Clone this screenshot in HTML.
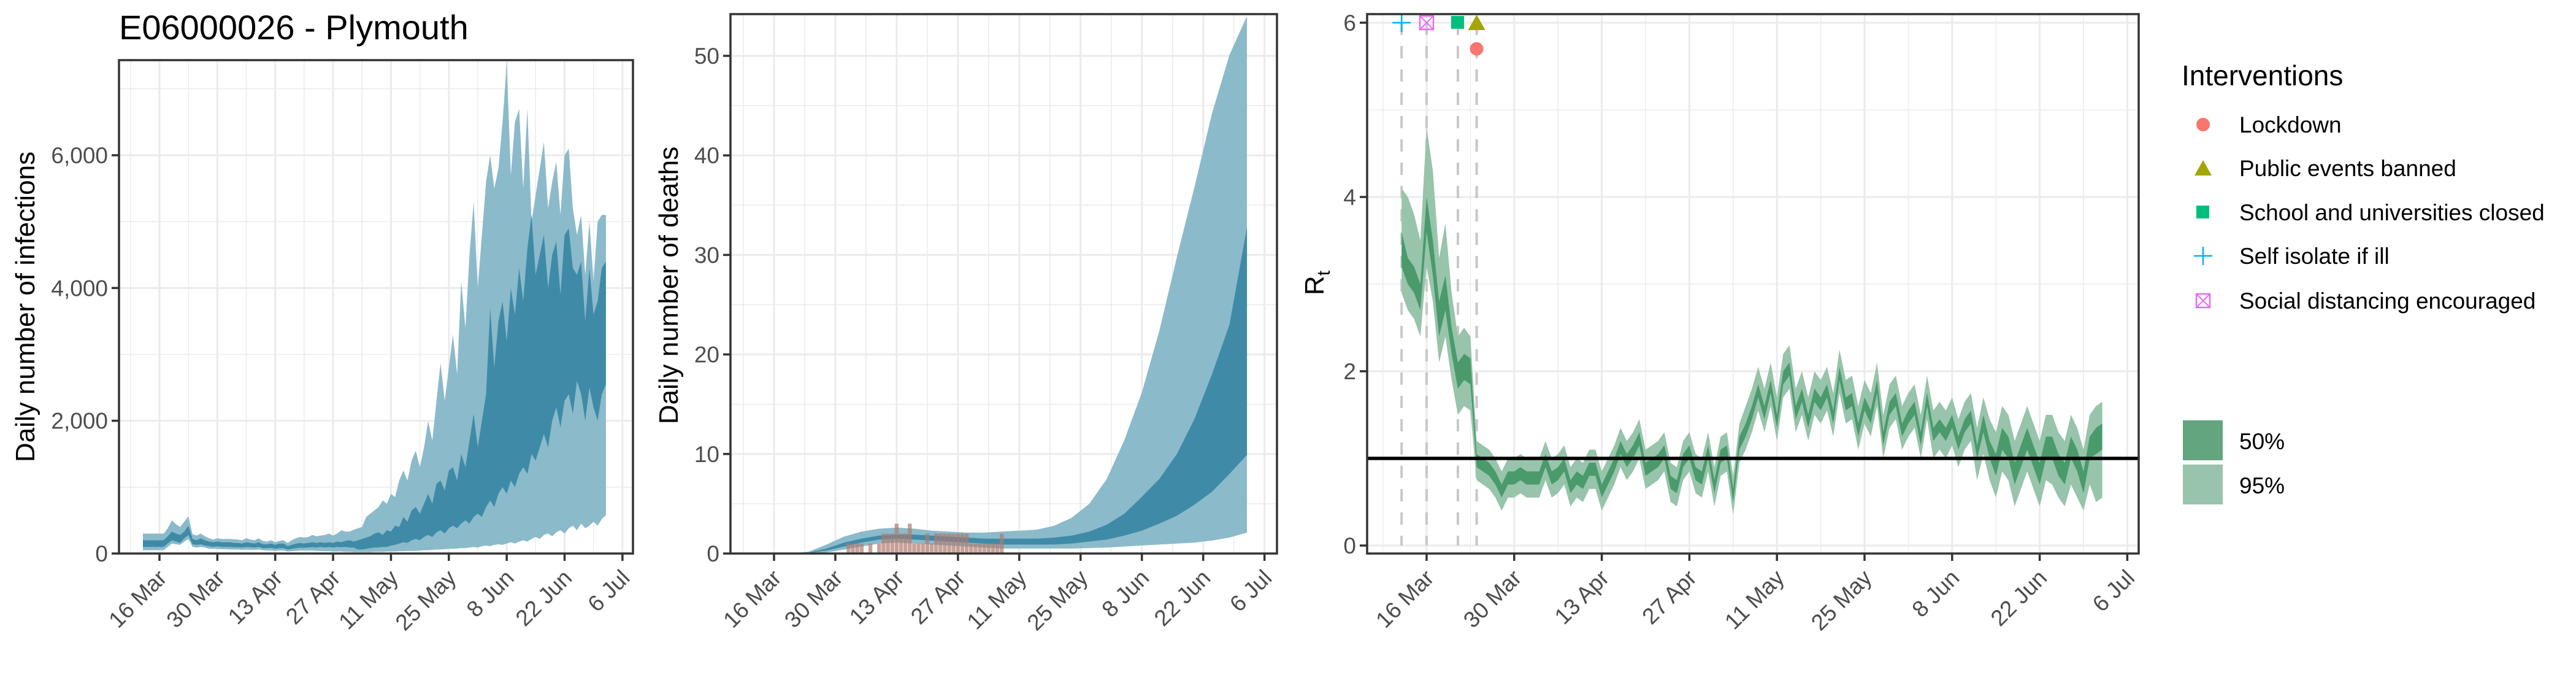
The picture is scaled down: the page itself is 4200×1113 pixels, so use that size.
<!DOCTYPE html>
<html><head><meta charset="utf-8"><style>
html,body{margin:0;padding:0;background:#fff}
svg{display:block}
text{font-family:"Liberation Sans",Arial,sans-serif}
</style></head><body>
<svg id="chart" width="4200" height="1113" viewBox="0 0 4200 1113" xmlns="http://www.w3.org/2000/svg">
<text x="194" y="64" font-size="56" fill="#000">E06000026 - Plymouth</text>
<g id="p1"></g>
<g id="p2"></g>
<g id="p3"></g>
<g id="legend">
  <text x="3557" y="139" font-size="46" fill="#000">Interventions</text>
  <g><circle cx="3592" cy="203" r="11" fill="#f8766d"/><text x="3651" y="216" font-size="37">Lockdown</text></g>
  <g><polygon points="3578,286 3606,286 3592,261" fill="#a3a500"/><text x="3651" y="287" font-size="37">Public events banned</text></g>
  <g><rect x="3581" y="335" width="21" height="21" fill="#00bf7d"/><text x="3651" y="359" font-size="37">School and universities closed</text></g>
  <g><line x1="3577" y1="417" x2="3607" y2="417" stroke="#00b0f6" stroke-width="2.5"/><line x1="3592" y1="402" x2="3592" y2="432" stroke="#00b0f6" stroke-width="2.5"/><text x="3651" y="430" font-size="37">Self isolate if ill</text></g>
  <g><rect x="3581" y="479" width="22" height="22" fill="none" stroke="#e76bf3" stroke-width="2.5"/><line x1="3581" y1="479" x2="3603" y2="501" stroke="#e76bf3" stroke-width="2"/><line x1="3603" y1="479" x2="3581" y2="501" stroke="#e76bf3" stroke-width="2"/><text x="3651" y="503" font-size="37">Social distancing encouraged</text></g>
  <g><rect x="3559" y="685" width="65" height="65" fill="#62a57e"/><text x="3651" y="732" font-size="37">50%</text></g>
  <g><rect x="3559" y="757" width="65" height="65" fill="#98c4ab"/><text x="3651" y="804" font-size="37">95%</text></g>
</g>
</svg>
<script>
// ---------- DATA ----------
const tickLabels = ["16 Mar","30 Mar","13 Apr","27 Apr","11 May","25 May","8 Jun","22 Jun","6 Jul"];
const tickDays = [0,14,28,42,56,70,84,98,112];
const infStartDay = -4;
const infL95 = [50,50,50,50,50,50,100,150,140,130,180,220,100,90,100,90,
70,70,70,65,65,60,60,60,55,60,55,55,60,50,45,45,40,45,45,30,35,40,45,45,45,45,40,40,35,35,30,30,30,25,25,20,
20,20,20,20,25,25,25,30,30,30,35,35,40,40,40,45,50,50,55,60,60,65,70,70,75,80,80,90,100,90,110,120,110,130,140,130,150,170,150,180,200,180,220,250,220,280,300,260,320,350,300,380,420,350,450,380,420,480,420,520,580];
const infL50 = [100,100,100,100,100,100,150,200,180,160,230,280,140,130,140,120,
110,100,110,100,100,100,95,95,90,100,95,90,100,80,80,85,70,80,80,60,70,80,90,85,90,95,90,100,90,100,90,100,95,100,90,90,
60,60,70,80,90,90,100,100,120,130,150,170,160,200,220,200,250,280,250,320,350,300,380,420,380,450,500,450,550,600,550,700,800,700,900,1000,900,1100,1000,1200,1300,1200,1500,1400,1600,1800,1600,2000,2200,1900,2300,2400,2100,2600,2400,2000,2500,2200,2000,2400,2550];
const infU50 = [200,200,200,200,200,200,260,330,300,280,330,420,220,200,230,200,
180,170,180,170,170,170,160,160,150,170,160,150,170,140,140,150,130,150,150,110,130,150,160,150,160,170,160,170,160,170,160,180,170,190,200,180,
200,220,240,260,300,320,280,350,330,420,400,550,480,650,700,600,750,900,750,1050,1100,950,1250,1300,1100,1500,1300,1700,2100,1600,2000,2400,3700,2800,3500,3800,3200,4000,3600,4300,3800,4600,5100,4200,4500,4800,4000,4500,4700,3900,4800,4900,4300,4200,4400,3500,4300,3600,3800,4300,4400];
const infU95 = [300,300,300,300,300,300,380,500,440,400,480,560,290,270,300,260,
230,210,230,220,220,220,215,210,200,230,210,200,230,190,180,200,170,190,200,160,200,230,250,240,250,280,260,270,280,300,270,300,350,330,330,360,
380,400,550,600,650,700,800,750,900,850,1100,1250,1100,1400,1550,1300,1600,2000,1700,2300,2870,2300,2800,3300,2700,4100,3400,4500,5300,4000,4800,5600,6000,5500,5800,6500,7400,5700,6500,6700,5500,6700,5000,5400,5800,6200,5200,5600,5900,5100,6000,6100,5200,4800,5100,4200,5000,4100,5000,5100,5100];

const deathDays = [4,8,12,16,20,24,28,32,36,40,44,48,52,56,60,64,68,72,76,80,84,88,92,96,100,104,108];
const deathL95 = [0,0,0.1,0.4,0.7,1.0,1.1,1.0,0.9,0.8,0.7,0.6,0.5,0.5,0.5,0.5,0.5,0.55,0.6,0.7,0.8,0.9,1.0,1.1,1.3,1.6,2.1];
const deathL50 = [0,0.05,0.3,0.7,1.1,1.4,1.5,1.4,1.3,1.2,1.1,1.0,0.9,0.9,0.9,0.9,1.0,1.2,1.4,1.8,2.3,3.0,3.8,4.9,6.2,8.0,9.9];
const deathU50 = [0,0.1,0.5,1.1,1.5,1.8,1.9,1.9,1.8,1.7,1.6,1.5,1.5,1.5,1.5,1.6,1.8,2.2,2.9,4.0,5.7,7.5,10,13.5,18,23,32.8];
const deathU95 = [0,0.2,0.9,1.7,2.2,2.5,2.6,2.5,2.3,2.2,2.1,2.1,2.2,2.3,2.4,2.8,3.6,5.0,7.5,11.4,16.2,22.4,29.8,36.8,44.2,50.1,54];
const obsStartDay = 17;
const obsDeaths = [1,1,1,1,0,1,0,1,2,2,2,3,2,2,3,1,1,1,2,1,2,2,2,2,2,2,2,2,1,1,1,1,1,1,1,2];

const rtStartDay = -4;
const rtU95 = [4.1,4.0,3.8,3.5,4.8,4.3,3.3,3.7,2.9,2.4,2.5,2.4,
1.2,1.15,1.1,1.0,0.85,1.0,1.0,1.05,1.0,1.0,1.0,1.2,1.0,1.05,1.15,0.9,1.0,0.95,1.1,1.1,0.85,1.0,1.15,1.35,1.2,1.3,1.45,1.1,1.15,1.2,1.3,0.95,0.9,1.2,1.3,1.05,1.0,1.3,0.9,1.25,1.3,0.8,1.4,
1.6,1.8,2.05,1.8,2.1,1.7,2.2,2.3,1.8,2.0,1.7,2.0,1.9,2.05,1.75,2.25,1.9,1.95,1.6,1.9,1.75,2.1,1.5,1.85,1.95,1.6,1.75,1.85,1.5,1.95,1.55,1.65,1.55,1.7,1.45,1.65,1.75,1.35,1.7,1.45,1.3,1.6,1.5,1.2,1.4,1.6,1.4,1.2,1.5,1.5,1.3,1.2,1.5,1.35,1.1,1.5,1.6,1.65];
const rtU50 = [3.6,3.3,3.2,3.0,4.0,3.5,2.8,3.1,2.5,2.1,2.2,2.15,
1.05,1.0,0.95,0.85,0.7,0.85,0.85,0.9,0.85,0.85,0.85,1.05,0.85,0.9,1.0,0.75,0.85,0.8,0.95,0.95,0.7,0.85,1.0,1.2,1.05,1.15,1.3,0.95,1.0,1.05,1.15,0.8,0.75,1.05,1.15,0.9,0.85,1.15,0.75,1.1,1.15,0.65,1.25,
1.4,1.6,1.85,1.6,1.9,1.5,2.0,2.1,1.6,1.8,1.5,1.8,1.7,1.85,1.55,2.05,1.7,1.75,1.4,1.7,1.55,1.9,1.3,1.65,1.75,1.4,1.55,1.65,1.3,1.75,1.35,1.45,1.35,1.5,1.25,1.45,1.55,1.15,1.5,1.2,1.05,1.35,1.25,0.95,1.15,1.35,1.15,0.95,1.25,1.25,1.05,0.95,1.25,1.1,0.85,1.25,1.35,1.4];
const rtL50 = [3.2,3.0,2.9,2.7,3.6,3.1,2.4,2.7,2.2,1.8,1.9,1.85,
0.9,0.85,0.8,0.7,0.55,0.7,0.7,0.75,0.7,0.7,0.7,0.9,0.7,0.75,0.85,0.6,0.7,0.65,0.8,0.8,0.55,0.7,0.85,1.05,0.9,1.0,1.15,0.8,0.85,0.9,1.0,0.65,0.6,0.9,1.0,0.75,0.7,1.0,0.6,0.95,1.0,0.5,1.1,
1.25,1.45,1.7,1.45,1.75,1.35,1.85,1.95,1.45,1.65,1.35,1.65,1.55,1.7,1.4,1.9,1.55,1.6,1.25,1.55,1.4,1.75,1.15,1.5,1.6,1.25,1.4,1.5,1.15,1.6,1.2,1.3,1.2,1.35,1.1,1.3,1.4,1.0,1.3,1.0,0.8,1.1,1.0,0.7,0.9,1.1,0.9,0.7,1.0,1.0,0.8,0.7,1.0,0.85,0.6,1.0,1.05,1.1];
const rtL95 = [2.9,2.7,2.6,2.4,3.2,2.8,2.1,2.4,1.9,1.5,1.6,1.55,
0.75,0.7,0.65,0.55,0.4,0.55,0.55,0.6,0.55,0.55,0.55,0.75,0.55,0.6,0.7,0.45,0.55,0.5,0.65,0.65,0.4,0.55,0.7,0.9,0.75,0.85,1.0,0.65,0.7,0.75,0.85,0.5,0.45,0.75,0.85,0.6,0.55,0.85,0.45,0.8,0.85,0.35,0.95,
1.1,1.3,1.55,1.3,1.6,1.2,1.7,1.8,1.3,1.5,1.2,1.5,1.4,1.55,1.25,1.75,1.4,1.45,1.1,1.4,1.25,1.6,1.0,1.35,1.45,1.1,1.25,1.35,1.0,1.45,1.0,1.1,1.0,1.15,0.9,1.1,1.2,0.75,1.05,0.75,0.55,0.85,0.75,0.45,0.65,0.85,0.65,0.45,0.75,0.7,0.55,0.45,0.7,0.55,0.4,0.7,0.5,0.55];

const interventionNames = ["Self isolate if ill","Social distancing encouraged","School and universities closed","Public events banned","Lockdown"];
const interventionDays = [-4,0,5,8,8];
const interventionLevel = [6,6,6,6,5.7];

// ---------- HELPERS ----------
const NS="http://www.w3.org/2000/svg";
function mk(parent,tag,attrs){const e=document.createElementNS(NS,tag);for(const k in attrs)e.setAttribute(k,attrs[k]);parent.appendChild(e);return e;}

function panel(g,cfg){
  const {L,R,T,B,xs,ys,yTicks,yMinor,yLabels,title,sub}=cfg;
  mk(g,'rect',{x:L,y:T,width:R-L,height:B-T,fill:'#fff'});
  yMinor.forEach(v=>{const l=mk(g,'line',{x1:L,x2:R,y1:ys(v),y2:ys(v),stroke:'#ebebeb','stroke-width':1.5});
    
    });
  [-7,7,21,35,49,63,77,91,105].forEach(d=>{const x=xs(d);if(x>L&&x<R){const l=mk(g,'line',{x1:x,x2:x,y1:T,y2:B,stroke:'#ebebeb','stroke-width':1.5});
    
    }});
  yTicks.forEach(v=>{const l=mk(g,'line',{x1:L,x2:R,y1:ys(v),y2:ys(v),stroke:'#ebebeb','stroke-width':3});
    
    });
  tickDays.forEach(d=>{const l=mk(g,'line',{x1:xs(d),x2:xs(d),y1:T,y2:B,stroke:'#ebebeb','stroke-width':3});
    
    });
  const plot=mk(g,'g',{});
  
  
  const frame=mk(g,'g',{});
  mk(frame,'rect',{x:L,y:T,width:R-L,height:B-T,fill:'none',stroke:'#333','stroke-width':3.5});
  yTicks.forEach((v,i)=>{
    mk(frame,'line',{x1:L-12,x2:L,y1:ys(v),y2:ys(v),stroke:'#333','stroke-width':3.5});
    const t=mk(frame,'text',{x:L-18,y:ys(v)+13,'text-anchor':'end','font-size':37,fill:'#4d4d4d'});
    t.textContent=yLabels[i];
    
    
  });
  tickDays.forEach((d,i)=>{
    const x=xs(d);
    mk(frame,'line',{x1:x,x2:x,y1:B,y2:B+12,stroke:'#333','stroke-width':3.5});
    const t=mk(frame,'text',{x:x+14,y:B+42,'text-anchor':'end','font-size':37,fill:'#4d4d4d',transform:`rotate(-45 ${x+14} ${B+42})`});
    t.textContent=tickLabels[i];
    
    
  });
  const yt=mk(frame,'text',{x:cfg.tx,y:cfg.ty,'text-anchor':'middle','font-size':44,fill:'#000',transform:`rotate(-90 ${cfg.tx} ${cfg.ty})`});
  yt.textContent=title;
  if(sub){const s=mk(yt,'tspan',{'font-size':30,dy:10});s.textContent=sub;}
  
  
  return plot;
}
function band(plot,days,lo,hi,xs,ys,fill,name){
  let pts=[];
  for(let i=0;i<days.length;i++)pts.push(xs(days[i]).toFixed(1)+','+ys(hi[i]).toFixed(1));
  for(let i=days.length-1;i>=0;i--)pts.push(xs(days[i]).toFixed(1)+','+ys(lo[i]).toFixed(1));
  const p=mk(plot,'polygon',{points:pts.join(' '),fill:fill});
  
  
}
function seqDays(start,n){const a=[];for(let i=0;i<n;i++)a.push(start+i);return a;}

// ---------- PANEL 1 ----------
{
  const L=194,R=1032,T=98,B=902;
  const xs=d=>260+6.74*d, ys=v=>B-v*0.10817;
  const plot=panel(document.getElementById('p1'),{L,R,T,B,xs,ys,yTicks:[0,2000,4000,6000],yMinor:[1000,3000,5000,7000],yLabels:["0","2,000","4,000","6,000"],title:"Daily number of infections",tx:56,ty:500});
  const days=seqDays(infStartDay,infU95.length);
  band(plot,days,infL95,infU95,xs,ys,'#8bbacb','infections-95-band');
  band(plot,days,infL50,infU50,xs,ys,'#3f8ba7','infections-50-band');
}
// ---------- PANEL 2 ----------
{
  const L=1191,R=2082,T=23,B=902;
  const xs=d=>1262+7.14*d, ys=v=>B-v*16.22;
  const plot=panel(document.getElementById('p2'),{L,R,T,B,xs,ys,yTicks:[0,10,20,30,40,50],yMinor:[5,15,25,35,45],yLabels:["0","10","20","30","40","50"],title:"Daily number of deaths",tx:1105,ty:465});
  band(plot,deathDays,deathL95,deathU95,xs,ys,'#8bbacb','deaths-95-band');
  band(plot,deathDays,deathL50,deathU50,xs,ys,'#3f8ba7','deaths-50-band');
  obsDeaths.forEach((v,i)=>{
    if(v<=0)return;
    const d=obsStartDay+i;
    const r=mk(plot,'rect',{x:xs(d)-3.2,y:ys(v),width:6.4,height:B-ys(v),fill:'#b07a6e','fill-opacity':0.7});
    
    
  });
}
// ---------- PANEL 3 ----------
{
  const L=2229,R=3487,T=23,B=902;
  const xs=d=>2326+10.2*d, ys=v=>889-v*142;
  const plot=panel(document.getElementById('p3'),{L,R,T,B,xs,ys,yTicks:[0,2,4,6],yMinor:[1,3,5],yLabels:["0","2","4","6"],title:"R",sub:"t",tx:2158,ty:461});
  interventionDays.forEach((d,i)=>{
    const l=mk(plot,'line',{x1:xs(d),x2:xs(d),y1:ys(6),y2:ys(0),stroke:'#c8c8c8','stroke-width':4,'stroke-dasharray':'20,18'});
    
    
  });
  const days=seqDays(rtStartDay,rtU95.length);
  band(plot,days,rtL95,rtU95,xs,ys,'#97c4aa','rt-95-band');
  band(plot,days,rtL50,rtU50,xs,ys,'#4a9a6c','rt-50-band');
  const h=mk(plot,'line',{x1:L,x2:R,y1:ys(1),y2:ys(1),stroke:'#000','stroke-width':5.5});
  
  
  // markers
  interventionNames.forEach((n,i)=>{
    const x=xs(interventionDays[i]), y=ys(interventionLevel[i]);
    const g=mk(plot,'g',{});
    
    
    if(n==="Self isolate if ill"){mk(g,'line',{x1:x-15,x2:x+15,y1:y,y2:y,stroke:'#00b0f6','stroke-width':2.5});mk(g,'line',{x1:x,x2:x,y1:y-15,y2:y+15,stroke:'#00b0f6','stroke-width':2.5});}
    else if(n==="Social distancing encouraged"){mk(g,'rect',{x:x-11,y:y-11,width:22,height:22,fill:'none',stroke:'#e76bf3','stroke-width':2.5});mk(g,'line',{x1:x-11,y1:y-11,x2:x+11,y2:y+11,stroke:'#e76bf3','stroke-width':2});mk(g,'line',{x1:x+11,y1:y-11,x2:x-11,y2:y+11,stroke:'#e76bf3','stroke-width':2});}
    else if(n==="School and universities closed"){mk(g,'rect',{x:x-11,y:y-11,width:21,height:21,fill:'#00bf7d'});}
    else if(n==="Public events banned"){mk(g,'polygon',{points:`${x-14},${y+12} ${x+14},${y+12} ${x},${y-13}`,fill:'#a3a500'});}
    else {mk(g,'circle',{cx:x,cy:y,r:11,fill:'#f8766d'});}
  });
}
</script>
</body></html>
